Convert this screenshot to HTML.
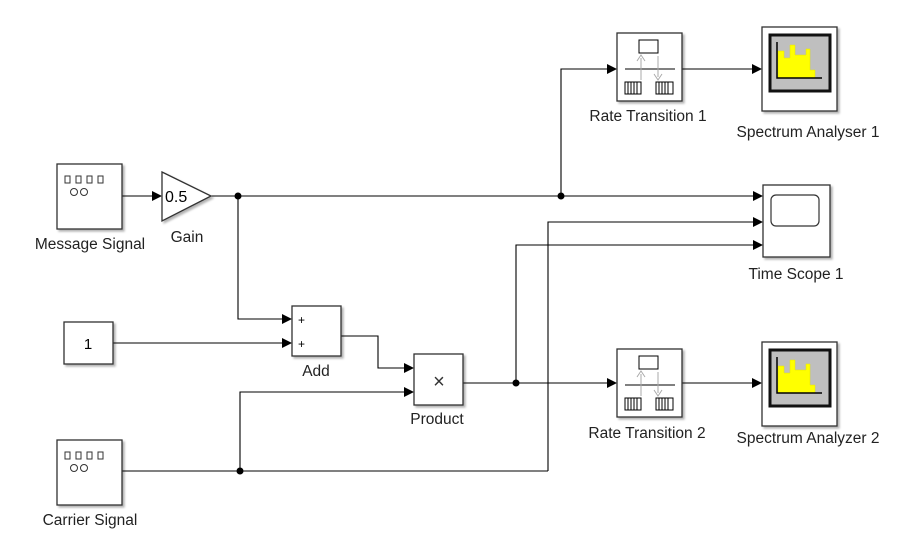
<!DOCTYPE html>
<html><head><meta charset="utf-8"><style>
html,body{margin:0;padding:0;background:#fff;}
svg{display:block;font-family:"Liberation Sans",Arial,sans-serif;}
</style></head><body>
<svg width="898" height="546" viewBox="0 0 898 546" xmlns="http://www.w3.org/2000/svg">
<defs>
<marker id="a" markerWidth="10" markerHeight="10" refX="9" refY="5" orient="auto" markerUnits="userSpaceOnUse">
<path d="M0,0 L10,5 L0,10 Z" fill="#000"/></marker>
<filter id="sh" x="-10%" y="-10%" width="130%" height="130%"><feDropShadow dx="2" dy="2" stdDeviation="1" flood-color="#000" flood-opacity="0.3"/></filter>
<g id="sig">
<rect x="0" y="0" width="65" height="65" fill="#fff" stroke="#333" stroke-width="1.3" filter="url(#sh)"/>
<g fill="none" stroke="#333" stroke-width="1"><rect x="8" y="12" width="5" height="7"/><rect x="19" y="12" width="5" height="7"/><rect x="30" y="12" width="5" height="7"/><rect x="41" y="12" width="5" height="7"/>
<circle cx="17" cy="28" r="3.5"/><circle cx="27" cy="28" r="3.5"/></g>
</g>
<g id="rt">
<rect x="617" y="349" width="65" height="68" fill="#fff" stroke="#333" stroke-width="1.3" filter="url(#sh)"/>
<rect x="639" y="356" width="19" height="13" fill="#fff" stroke="#000" stroke-width="1"/>
<line x1="625" y1="385" x2="675" y2="385" stroke="#000"/>
<line x1="641" y1="396" x2="641" y2="374" stroke="#aaa"/><path d="M637,377 L641,371 L645,377" fill="none" stroke="#aaa"/>
<line x1="658" y1="372" x2="658" y2="393" stroke="#aaa"/><path d="M654,390 L658,396 L662,390" fill="none" stroke="#aaa"/>
<rect x="625" y="398" width="16" height="12" fill="#fff" stroke="#000"/>
<path d="M628,398V410M631,398V410M634,398V410M637,398V410" stroke="#000"/>
<rect x="656" y="398" width="17" height="12" fill="#fff" stroke="#000"/>
<path d="M659,398V410M662,398V410M665,398V410M668,398V410" stroke="#000"/>
</g>
<g id="sa">
<rect x="762" y="342" width="75" height="84" fill="#fff" stroke="#333" stroke-width="1.3" filter="url(#sh)"/>
<rect x="770" y="350" width="60" height="56" fill="#bfbfbf" stroke="#111" stroke-width="3"/>
<path d="M778,366H784V373H790V360H795V370H806V364H810V385H815V393H778Z" fill="#ffff00" stroke="#e6e600" stroke-width="0.5"/>
<path d="M777,357V393H822" fill="none" stroke="#000" stroke-width="1.5"/>
</g>
</defs>

<g fill="none" stroke="#000" stroke-width="1.1">
<line x1="122" y1="196" x2="161" y2="196" marker-end="url(#a)"/>
<line x1="211" y1="196" x2="762" y2="196" marker-end="url(#a)"/>
<polyline points="561,196 561,69 616,69" marker-end="url(#a)"/>
<line x1="682" y1="69" x2="761" y2="69" marker-end="url(#a)"/>
<polyline points="238,196 238,319 291,319" marker-end="url(#a)"/>
<line x1="113" y1="343" x2="291" y2="343" marker-end="url(#a)"/>
<polyline points="341,336 378,336 378,368 413,368" marker-end="url(#a)"/>
<line x1="122" y1="471" x2="548" y2="471"/>
<polyline points="240,471 240,392 413,392" marker-end="url(#a)"/>
<polyline points="548,471 548,222 762,222" marker-end="url(#a)"/>
<line x1="463" y1="383" x2="616" y2="383" marker-end="url(#a)"/>
<polyline points="516,383 516,245 762,245" marker-end="url(#a)"/>
<line x1="682" y1="383" x2="761" y2="383" marker-end="url(#a)"/>
</g>
<g fill="#000"><circle cx="238" cy="196" r="3.5"/><circle cx="561" cy="196" r="3.5"/><circle cx="516" cy="383" r="3.5"/><circle cx="240" cy="471" r="3.5"/></g>

<use href="#sig" x="57" y="164"/>
<use href="#sig" x="57" y="440"/>
<polygon points="162,172 211,196 162,221" fill="#fff" stroke="#333" stroke-width="1.3" filter="url(#sh)"/>
<text x="165" y="202" font-size="16">0.5</text>
<rect x="64" y="322" width="49" height="42" fill="#fff" stroke="#333" stroke-width="1.3" filter="url(#sh)"/>
<text x="88" y="349" font-size="15" text-anchor="middle">1</text>
<rect x="292" y="306" width="49" height="50" fill="#fff" stroke="#333" stroke-width="1.3" filter="url(#sh)"/>
<text x="298" y="324" font-size="12">+</text><text x="298" y="348" font-size="12">+</text>
<rect x="414" y="354" width="49" height="51" fill="#fff" stroke="#333" stroke-width="1.3" filter="url(#sh)"/>
<text x="439" y="388" font-size="20" text-anchor="middle" fill="#333">×</text>
<use href="#rt"/>
<use href="#rt" y="-316"/>
<use href="#sa"/>
<use href="#sa" y="-315"/>
<rect x="763" y="185" width="67" height="72" fill="#fff" stroke="#333" stroke-width="1.3" filter="url(#sh)"/>
<rect x="771" y="195" width="48" height="31" rx="5" fill="#fff" stroke="#333" stroke-width="1.2"/>

<g font-size="15.5" fill="#222" text-anchor="middle">
<text x="90" y="249">Message Signal</text>
<text x="187" y="242">Gain</text>
<text x="316" y="376">Add</text>
<text x="437" y="424">Product</text>
<text x="90" y="525">Carrier Signal</text>
<text x="648" y="121">Rate Transition 1</text>
<text x="808" y="137">Spectrum Analyser 1</text>
<text x="796" y="279">Time Scope 1</text>
<text x="647" y="438">Rate Transition 2</text>
<text x="808" y="443">Spectrum Analyzer 2</text>
</g>
</svg>
</body></html>
